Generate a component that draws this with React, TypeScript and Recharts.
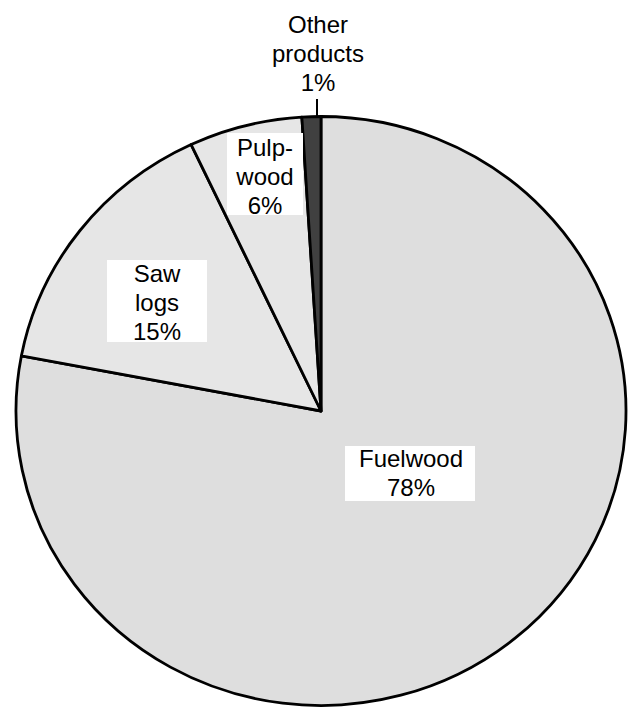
import React from "react";
import { PieChart, Pie, Cell } from "recharts";

// Shares of roundwood removals by product (percent)
const categories = ["Fuelwood", "Saw logs", "Pulpwood", "Other products"];
const shares = [78, 15, 6, 1];
// How each category name is broken over lines in its label
const labelLines = [["Fuelwood"], ["Saw", "logs"], ["Pulp-", "wood"], ["Other", "products"]];

const sliceColors = ["#dedede", "#e6e6e6", "#e6e6e6", "#404040"];

// Label placement: white box (x, y, w, h), text centre x, first baseline
const labelBoxes = [
  { x: 345, y: 446, w: 130, h: 55, tx: 411, base: 467, boxed: true },
  { x: 107, y: 260, w: 100, h: 82, tx: 157, base: 281.5, boxed: true },
  { x: 227, y: 133, w: 76, h: 82, tx: 265, base: 156, boxed: true },
  { x: 268, y: 6, w: 100, h: 92, tx: 318, base: 33, boxed: false, leader: { x: 317, y1: 99, y2: 117 } },
];
const LINE_STEP = 29.2;

const data = categories.map((name, i) => ({ name, value: shares[i] }));

const WIDTH = 631;
const HEIGHT = 707;
const CX = 321;
const CY = 411;
const RADIUS = 294.5;
const X_STRETCH = 305 / 294.5; // the pie is drawn slightly wider than tall
const RAD = Math.PI / 180;
const FONT = "'Liberation Sans', Arial, sans-serif";
const OUTLINE = 2.8;

function EllipseSector(props: any) {
  const { cx, cy, outerRadius, startAngle, endAngle, fill } = props;
  const rx = outerRadius * X_STRETCH;
  const ry = outerRadius;
  const pt = (a: number) => [cx + rx * Math.cos(a * RAD), cy - ry * Math.sin(a * RAD)];
  const [x1, y1] = pt(startAngle);
  const [x2, y2] = pt(endAngle);
  const span = Math.abs(endAngle - startAngle);
  const large = span > 180 ? 1 : 0;
  const sweep = startAngle > endAngle ? 1 : 0;
  const d = `M${cx},${cy} L${x1},${y1} A${rx},${ry} 0 ${large} ${sweep} ${x2},${y2} Z`;
  return <path d={d} fill={fill} stroke="#000" strokeWidth={OUTLINE} strokeLinejoin="round" />;
}

const renderLabel = (props: any) => {
  const i = props.index;
  const box = labelBoxes[i];
  const lines = [...labelLines[i], `${props.value}%`];
  const clipId = `label-clip-${i}`;
  return (
    <g key={`label-${i}`}>
      {box.boxed && (
        <>
          <defs>
            <clipPath id={clipId}>
              <rect x={box.x} y={box.y} width={box.w} height={box.h} />
            </clipPath>
          </defs>
          <rect x={box.x} y={box.y} width={box.w} height={box.h} fill="#ffffff" />
        </>
      )}
      {box.leader && (
        <line x1={box.leader.x} x2={box.leader.x} y1={box.leader.y1} y2={box.leader.y2} stroke="#000" strokeWidth={2} />
      )}
      <text
        textAnchor="middle"
        fontFamily={FONT}
        fontSize={24}
        fill="#000"
        clipPath={box.boxed ? `url(#${clipId})` : undefined}
      >
        {lines.map((t, k) => (
          <tspan key={k} x={box.tx} y={box.base + k * LINE_STEP}>
            {t}
          </tspan>
        ))}
      </text>
    </g>
  );
};

export default function App() {
  return (
    <div style={{ position: "absolute", left: 0, top: 0, width: WIDTH, height: HEIGHT, background: "#fff" }}>
      <PieChart width={WIDTH} height={HEIGHT} margin={{ top: 0, right: 0, bottom: 0, left: 0 }}>
        <Pie
          data={data}
          dataKey="value"
          nameKey="name"
          cx={CX}
          cy={CY}
          innerRadius={0}
          outerRadius={RADIUS}
          startAngle={90}
          endAngle={-270}
          paddingAngle={0}
          stroke="#000"
          strokeWidth={OUTLINE}
          shape={EllipseSector}
          label={renderLabel}
          labelLine={false}
          isAnimationActive={false}
        >
          {data.map((d, i) => (
            <Cell key={d.name} fill={sliceColors[i]} />
          ))}
        </Pie>
      </PieChart>
    </div>
  );
}
